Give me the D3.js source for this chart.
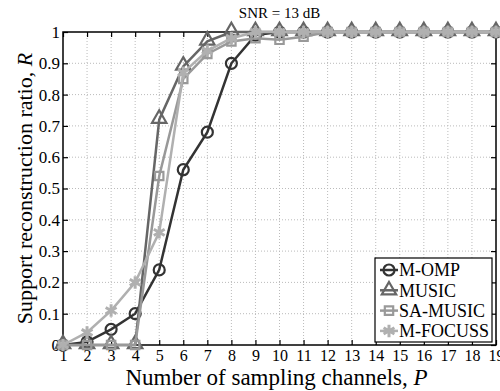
<!DOCTYPE html>
<html>
<head>
<meta charset="utf-8">
<script src="https://cdn.jsdelivr.net/npm/d3@7"></script>
<style>
  body { margin: 0; background: white; }
  svg { display: block; font-family: "Liberation Serif", "DejaVu Serif", serif; }
</style>
</head>
<body>
<script>
const channels = d3.range(1, 20);
const yTicks = [0, 0.1, 0.2, 0.3, 0.4, 0.5, 0.6, 0.7, 0.8, 0.9, 1];

const omp    = [0, 0.01, 0.05, 0.10, 0.24, 0.56, 0.68, 0.90, 0.99, 1, 1, 1, 1, 1, 1, 1, 1, 1, 1];
const music  = [0, 0, 0, 0, 0.72, 0.89, 0.97, 1, 1, 1, 1, 1, 1, 1, 1, 1, 1, 1, 1];
const sa     = [0, 0, 0, 0, 0.54, 0.85, 0.93, 0.97, 0.98, 0.975, 0.985, 1, 1, 1, 1, 1, 1, 1, 1];
const focuss = [0, 0.04, 0.11, 0.20, 0.36, 0.87, 0.94, 0.98, 1, 1, 1, 1, 1, 1, 1, 1, 1, 1, 1];

const series = [
  { name: 'M-OMP', values: omp, color: '#333333', marker: 'circle' },
  { name: 'MUSIC', values: music, color: '#666666', marker: 'triangle' },
  { name: 'SA-MUSIC', values: sa, color: '#999999', marker: 'square' },
  { name: 'M-FOCUSS', values: focuss, color: '#b0b0b0', marker: 'star' },
];

const width = 500, height = 391;
const margin = { top: 32, right: 4, bottom: 46, left: 63 };

const x = d3.scaleLinear().domain([1, 19]).range([margin.left, width - margin.right]);
const y = d3.scaleLinear().domain([0, 1]).range([height - margin.bottom, margin.top]);

const svg = d3.select('body').append('svg')
  .attr('width', width)
  .attr('height', height);

// grid
svg.append('g')
  .attr('stroke', '#bbbbbb')
  .attr('stroke-dasharray', '1,2')
  .call(g => g.selectAll('.vx').data(channels.slice(1, -1)).join('line')
    .attr('x1', d => x(d)).attr('x2', d => x(d))
    .attr('y1', y(0)).attr('y2', y(1)))
  .call(g => g.selectAll('.hy').data(yTicks.slice(1, -1)).join('line')
    .attr('x1', x(1)).attr('x2', x(19))
    .attr('y1', d => y(d)).attr('y2', d => y(d)));

// axes with inward ticks
const tickLen = 5;
const xAxisG = svg.append('g')
  .attr('transform', `translate(0,${y(0)})`)
  .call(d3.axisBottom(x).tickValues(channels).tickSize(-tickLen).tickPadding(5).tickFormat(d3.format('d')))
  .call(g => g.select('.domain').remove());
svg.append('g')
  .attr('transform', `translate(0,${y(1)})`)
  .call(d3.axisTop(x).tickValues(channels).tickSize(-tickLen).tickFormat(''))
  .call(g => g.select('.domain').remove());
const yAxisG = svg.append('g')
  .attr('transform', `translate(${x(1)},0)`)
  .call(d3.axisLeft(y).tickValues(yTicks).tickSize(-tickLen).tickPadding(3).tickFormat(d => d === 0 ? '0' : d === 1 ? '1' : d3.format('.1f')(d)))
  .call(g => g.select('.domain').remove());
svg.append('g')
  .attr('transform', `translate(${x(19)},0)`)
  .call(d3.axisRight(y).tickValues(yTicks).tickSize(-tickLen).tickFormat(''))
  .call(g => g.select('.domain').remove());

svg.selectAll('.tick line').attr('stroke', '#000').attr('stroke-width', 1.2);
svg.selectAll('g').attr('font-family', null);
xAxisG.selectAll('.tick text').attr('font-size', 16).attr('fill', '#000');
yAxisG.selectAll('.tick text').attr('font-size', 17).attr('fill', '#000');

svg.append('rect')
  .attr('x', x(1)).attr('y', y(1))
  .attr('width', x(19) - x(1)).attr('height', y(0) - y(1))
  .attr('fill', 'none').attr('stroke', '#000').attr('stroke-width', 1.5);

// markers
const symbolOf = {
  circle: d3.symbol(d3.symbolCircle, 95),
  triangle: d3.symbol(d3.symbolTriangle, 90),
  square: d3.symbol(d3.symbolSquare, 70),
  star: d3.symbol(d3.symbolAsterisk, 110),
};

const line = d3.line().x((d, i) => x(channels[i])).y(d => y(d));

const plot = svg.append('g');
series.forEach(s => {
  const g = plot.append('g');
  g.append('path')
    .attr('d', line(s.values))
    .attr('fill', 'none')
    .attr('stroke', s.color)
    .attr('stroke-width', 2.5);
  g.selectAll('path.m').data(s.values).join('path')
    .attr('class', 'm')
    .attr('transform', (d, i) => `translate(${x(channels[i])},${y(d)})${s.marker === 'triangle' ? 'translate(0,-1)' : ''}`)
    .attr('d', symbolOf[s.marker])
    .attr('fill', s.marker === 'star' ? s.color : 'none')
    .attr('stroke', s.color)
    .attr('stroke-width', s.marker === 'star' ? 3 : 2.2);
});

// legend
const lg = svg.append('g');
lg.append('rect')
  .attr('x', 375).attr('y', 258).attr('width', 117).attr('height', 84)
  .attr('fill', 'white').attr('stroke', '#000').attr('stroke-width', 1.2);
series.forEach((s, i) => {
  const cy = 270 + i * 20.3;
  lg.append('line')
    .attr('x1', 380).attr('x2', 398).attr('y1', cy).attr('y2', cy)
    .attr('stroke', s.color).attr('stroke-width', 2.5);
  lg.append('path')
    .attr('transform', `translate(389,${cy})`)
    .attr('d', symbolOf[s.marker])
    .attr('fill', s.marker === 'star' ? s.color : 'none')
    .attr('stroke', s.color)
    .attr('stroke-width', s.marker === 'star' ? 3 : 2.2);
  lg.append('text')
    .attr('x', 399).attr('y', cy)
    .attr('dy', '0.35em')
    .attr('font-size', 18)
    .attr('fill', '#000')
    .text(s.name);
});

// titles
svg.append('text')
  .attr('x', (x(1) + x(19)) / 2).attr('y', 18)
  .attr('text-anchor', 'middle').attr('font-size', 15)
  .text('SNR = 13 dB');

const xt = svg.append('text')
  .attr('x', (x(1) + x(19)) / 2 - 3).attr('y', 385)
  .attr('text-anchor', 'middle').attr('font-size', 23);
xt.append('tspan').text('Number of sampling channels, ');
xt.append('tspan').attr('font-style', 'italic').text('P');

const yt = svg.append('text')
  .attr('transform', `translate(32,${(y(0) + y(1)) / 2}) rotate(-90)`)
  .attr('text-anchor', 'middle').attr('font-size', 22);
yt.append('tspan').text('Support reconstruction ratio, ');
yt.append('tspan').attr('font-style', 'italic').text('R');
</script>
</body>
</html>
